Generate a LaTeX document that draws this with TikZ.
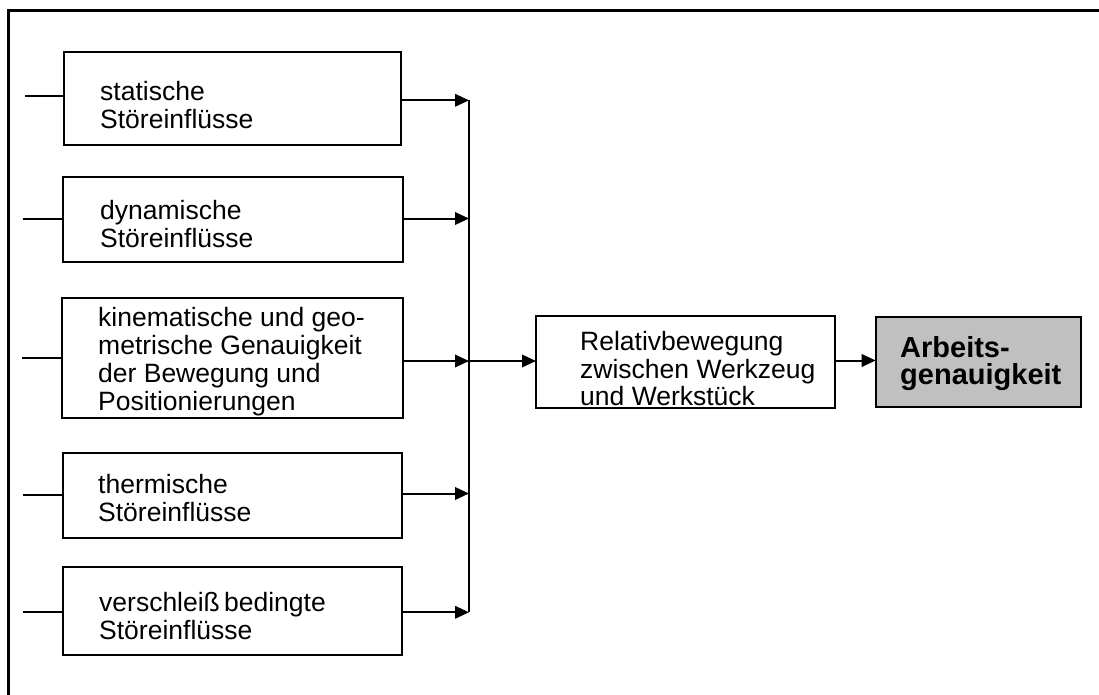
\documentclass[tikz,border=0pt]{standalone}
\usepackage{fontspec}
\setmainfont{Liberation Sans}
\usetikzlibrary{arrows.meta}
\begin{document}
\begin{tikzpicture}[x=1pt,y=-1pt,
  box/.style={draw, line width=2pt, rectangle, inner sep=0pt, outer sep=0pt},
  txt/.style={anchor=north west, inner sep=0pt, align=left, font=\fontsize{26.5}{28}\selectfont},
  btxt/.style={anchor=north west, inner sep=0pt, align=left, font=\fontsize{29}{27}\selectfont\bfseries},
  ln/.style={line width=2pt},
  arr/.style={line width=2pt, -{Triangle[length=14pt,width=12.5pt]}}]
\useasboundingbox (0,0) rectangle (1099,695);
\draw[line width=3pt] (8.5,695) -- (8.5,10.7) -- (1099,10.7);
% boxes
\node[box, minimum width=337pt, minimum height=93.5pt] (b1) at (232.5,98.75) {};
\node[box, minimum width=340pt, minimum height=84.5pt] (b2) at (233,219.25) {};
\node[box, minimum width=341pt, minimum height=120pt] (b3) at (232.5,357.7) {};
\node[box, minimum width=339pt, minimum height=85pt] (b4) at (232.5,495.2) {};
\node[box, minimum width=339pt, minimum height=88.3pt] (b5) at (232.5,610.85) {};
\node[box, minimum width=299pt, minimum height=92.6pt] (b6) at (685.5,362) {};
\node[box, fill={rgb,255:red,192;green,192;blue,192}, minimum width=205pt, minimum height=90pt] (b7) at (978.2,361.7) {};
% texts
\node[txt] (t1) at (100,81) {statische\\Störeinflüsse};
\node[txt] (t2) at (100,200) {dynamische\\Störeinflüsse};
\node[txt] (t3) at (98,307) {kinematische und geo-\\metrische Genauigkeit\\der Bewegung und\\Positionierungen};
\node[txt] (t4) at (98,474) {thermische\\Störeinflüsse};
\node[txt] (t5) at (99,592.5) {verschleiß\hspace{-0.12em} bedingte\\Störeinflüsse};
\node[txt, font=\fontsize{26.5}{27.5}\selectfont] (t6) at (580,331.5) {Relativbewegung\\zwischen Werkzeug\\und Werkstück};
\node[btxt] (t7) at (900,336.5) {Arbeits-\\genauigkeit};
% input stubs
\coordinate (s1) at (25,95.7);
\coordinate (s2) at (22.7,219);
\coordinate (s3) at (22,358);
\coordinate (s4) at (23,495);
\coordinate (s5) at (23,611.7);
\draw[ln] (s1) -- (s1 -| b1.west);
\draw[ln] (s2) -- (s2 -| b2.west);
\draw[ln] (s3) -- (s3 -| b3.west);
\draw[ln] (s4) -- (s4 -| b4.west);
\draw[ln] (s5) -- (s5 -| b5.west);
% bus
\coordinate (j1) at (469,100.3);
\coordinate (j2) at (469,218.5);
\coordinate (j3) at (469,361);
\coordinate (j4) at (469,493.5);
\coordinate (j5) at (469,612.3);
\draw[ln] (j1) -- (j5);
\draw[arr] (b1.east |- j1) -- (j1);
\draw[arr] (b2.east |- j2) -- (j2);
\draw[arr] (b3.east |- j3) -- (j3);
\draw[arr] (b4.east |- j4) -- (j4);
\draw[arr] (b5.east |- j5) -- (j5);
\draw[arr] (j3) -- (j3 -| b6.west);
\coordinate (k1) at (835,360.5);
\draw[arr] (b6.east |- k1) -- (k1 -| b7.west);
\end{tikzpicture}
\end{document}
